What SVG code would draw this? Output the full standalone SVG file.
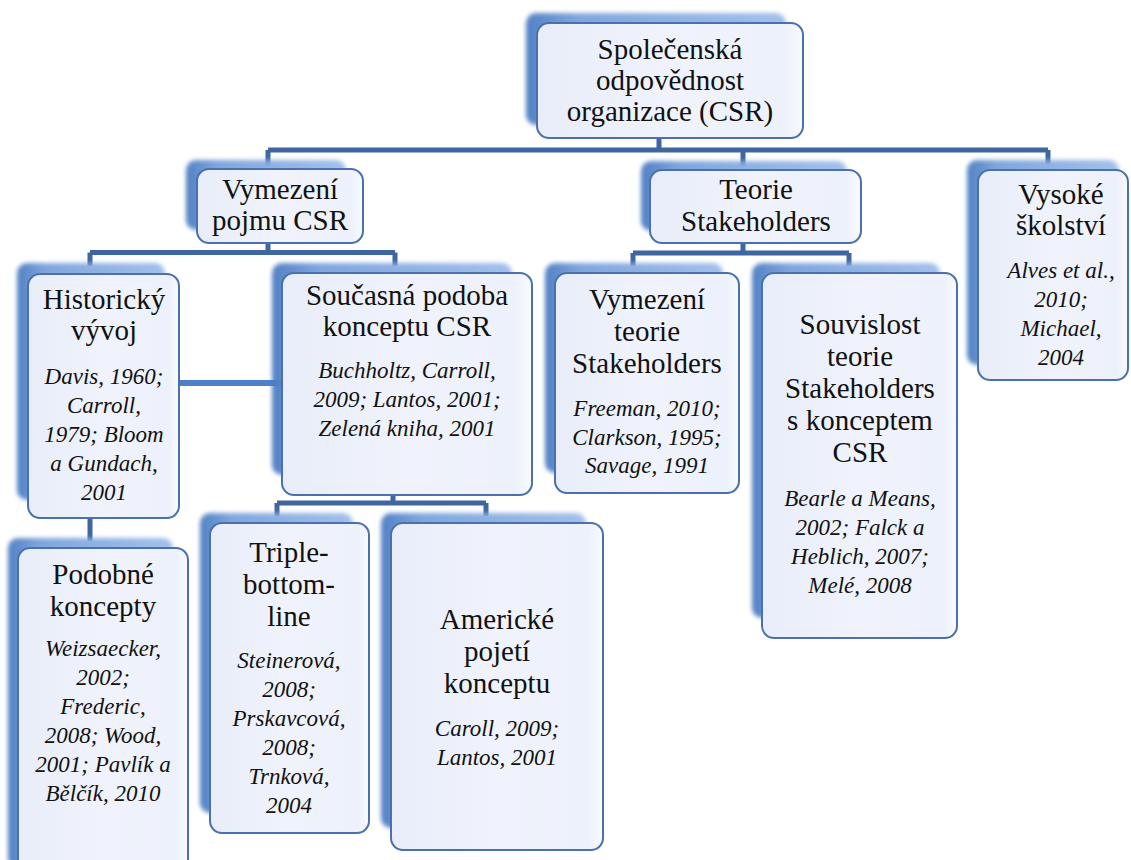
<svg xmlns="http://www.w3.org/2000/svg" width="1131" height="860" viewBox="0 0 1131 860">
  <defs>
    <linearGradient id="shadeGrad" x1="0" y1="0" x2="1" y2="0">
      <stop offset="0" stop-color="#4A7BC2"/>
      <stop offset="0.2" stop-color="#7AA2DC"/>
      <stop offset="1" stop-color="#9EBDEA"/>
    </linearGradient>
    <linearGradient id="faceGrad" x1="0" y1="0" x2="1" y2="0">
      <stop offset="0" stop-color="#E8EDF9"/>
      <stop offset="0.5" stop-color="#F0F3FC"/>
      <stop offset="0.93" stop-color="#EDF1FB"/>
      <stop offset="1" stop-color="#F8FAFE"/>
    </linearGradient>
    <filter id="soft" x="-10%" y="-10%" width="120%" height="120%">
      <feGaussianBlur stdDeviation="2"/>
    </filter>
  </defs>
  <style>
    .shade { fill: url(#shadeGrad); filter: url(#soft); opacity: 0.95; }
    .face { fill: url(#faceGrad); stroke: #4A70AD; stroke-width: 2; }
    .link { stroke: #3F66A0; stroke-width: 5; fill: none; stroke-linecap: butt; }
    .link2 { stroke: #4D80C6; stroke-width: 6; fill: none; }
    .t { font-family: "Liberation Serif", "Times New Roman", serif; font-size: 29px; fill: #111; text-anchor: middle; }
    .r { font-family: "Liberation Serif", "Times New Roman", serif; font-size: 23px; font-style: italic; fill: #111; text-anchor: middle; }
  </style>

  <rect width="1131" height="860" fill="#FFFFFF"/>

  <!-- connectors -->
  <g id="connectors">
    <path class="link" d="M659 128 V150 M268 150 H1048 M268 150 V166 M743 150 V166 M1048 150 V164"/>
    <path class="link" d="M268 243 V253 M90 252.5 H395 M90 252.5 V266 M395 252.5 V266"/>
    <path class="link" d="M90 518 V541"/>
    <path class="link" d="M393 495 V503 M277 503 H486 M277 503 V516 M486 503 V516"/>
    <path class="link" d="M743 243 V253 M633 253 H849 M633 253 V266 M849 253 V266"/>
    <path class="link2" d="M179 383 H283"/>
  </g>

  <!-- root -->
  <g id="csr">
    <rect class="shade" x="526" y="13" width="260" height="112" rx="10"/>
    <rect class="face" x="537" y="23" width="266" height="115" rx="12"/>
    <text class="t" x="670" y="59">Společenská</text>
    <text class="t" x="670" y="90">odpovědnost</text>
    <text class="t" x="670" y="121">organizace (CSR)</text>
  </g>

  <g id="vymezeni-pojmu">
    <rect class="shade" x="186" y="160" width="160" height="70" rx="10"/>
    <rect class="face" x="197" y="169" width="166" height="74" rx="12"/>
    <text class="t" x="280" y="199">Vymezení</text>
    <text class="t" x="280" y="230">pojmu CSR</text>
  </g>

  <g id="teorie-stakeholders">
    <rect class="shade" x="641" y="161" width="206" height="70" rx="10"/>
    <rect class="face" x="650" y="170" width="211" height="73" rx="12"/>
    <text class="t" x="756" y="199">Teorie</text>
    <text class="t" x="756" y="231">Stakeholders</text>
  </g>

  <g id="vysoke-skolstvi">
    <rect class="shade" x="967" y="160" width="152" height="205" rx="10"/>
    <rect class="face" x="978" y="170" width="150" height="210" rx="12"/>
    <text class="t" x="1061" y="204">Vysoké</text>
    <text class="t" x="1061" y="235">školství</text>
    <text class="r" x="1061" y="278">Alves et al.,</text>
    <text class="r" x="1061" y="307">2010;</text>
    <text class="r" x="1061" y="336">Michael,</text>
    <text class="r" x="1061" y="365">2004</text>
  </g>

  <g id="historicky-vyvoj">
    <rect class="shade" x="17" y="263" width="148" height="237" rx="10"/>
    <rect class="face" x="28" y="274" width="151" height="244" rx="12"/>
    <text class="t" x="104" y="309">Historický</text>
    <text class="t" x="104" y="340">vývoj</text>
    <text class="r" x="104" y="384">Davis, 1960;</text>
    <text class="r" x="104" y="413">Carroll,</text>
    <text class="r" x="104" y="442">1979; Bloom</text>
    <text class="r" x="104" y="471">a Gundach,</text>
    <text class="r" x="104" y="500">2001</text>
  </g>

  <g id="soucasna-podoba">
    <rect class="shade" x="272" y="263" width="240" height="212" rx="10"/>
    <rect class="face" x="282" y="273" width="250" height="222" rx="12"/>
    <text class="t" x="407" y="305">Současná podoba</text>
    <text class="t" x="407" y="336">konceptu CSR</text>
    <text class="r" x="407" y="378">Buchholtz, Carroll,</text>
    <text class="r" x="407" y="407">2009; Lantos, 2001;</text>
    <text class="r" x="407" y="436">Zelená kniha, 2001</text>
  </g>

  <g id="vymezeni-teorie">
    <rect class="shade" x="545" y="263" width="178" height="210" rx="10"/>
    <rect class="face" x="555" y="273" width="184" height="220" rx="12"/>
    <text class="t" x="647" y="309">Vymezení</text>
    <text class="t" x="647" y="341">teorie</text>
    <text class="t" x="647" y="373">Stakeholders</text>
    <text class="r" x="647" y="416">Freeman, 2010;</text>
    <text class="r" x="647" y="445">Clarkson, 1995;</text>
    <text class="r" x="647" y="473">Savage, 1991</text>
  </g>

  <g id="souvislost">
    <rect class="shade" x="752" y="263" width="188" height="355" rx="10"/>
    <rect class="face" x="762" y="273" width="195" height="365" rx="12"/>
    <text class="t" x="860" y="334">Souvislost</text>
    <text class="t" x="860" y="366">teorie</text>
    <text class="t" x="860" y="398">Stakeholders</text>
    <text class="t" x="860" y="430">s konceptem</text>
    <text class="t" x="860" y="462">CSR</text>
    <text class="r" x="860" y="506">Bearle a Means,</text>
    <text class="r" x="860" y="535">2002; Falck a</text>
    <text class="r" x="860" y="564">Heblich, 2007;</text>
    <text class="r" x="860" y="593">Melé, 2008</text>
  </g>

  <g id="podobne-koncepty">
    <rect class="shade" x="8" y="538" width="165" height="330" rx="10"/>
    <rect class="face" x="18" y="548" width="170" height="330" rx="12"/>
    <text class="t" x="103" y="584">Podobné</text>
    <text class="t" x="103" y="616">koncepty</text>
    <text class="r" x="103" y="656">Weizsaecker,</text>
    <text class="r" x="103" y="685">2002;</text>
    <text class="r" x="103" y="714">Frederic,</text>
    <text class="r" x="103" y="743">2008; Wood,</text>
    <text class="r" x="103" y="772">2001; Pavlík a</text>
    <text class="r" x="103" y="801">Bělčík, 2010</text>
  </g>

  <g id="triple-bottom-line">
    <rect class="shade" x="200" y="513" width="153" height="300" rx="10"/>
    <rect class="face" x="210" y="523" width="159" height="310" rx="12"/>
    <text class="t" x="289" y="562">Triple-</text>
    <text class="t" x="289" y="594">bottom-</text>
    <text class="t" x="289" y="626">line</text>
    <text class="r" x="289" y="668">Steinerová,</text>
    <text class="r" x="289" y="697">2008;</text>
    <text class="r" x="289" y="726">Prskavcová,</text>
    <text class="r" x="289" y="755">2008;</text>
    <text class="r" x="289" y="784">Trnková,</text>
    <text class="r" x="289" y="813">2004</text>
  </g>

  <g id="americke-pojeti">
    <rect class="shade" x="381" y="513" width="205" height="315" rx="10"/>
    <rect class="face" x="391" y="523" width="212" height="327" rx="12"/>
    <text class="t" x="497" y="629">Americké</text>
    <text class="t" x="497" y="661">pojetí</text>
    <text class="t" x="497" y="693">konceptu</text>
    <text class="r" x="497" y="736">Caroll, 2009;</text>
    <text class="r" x="497" y="765">Lantos, 2001</text>
  </g>
</svg>
